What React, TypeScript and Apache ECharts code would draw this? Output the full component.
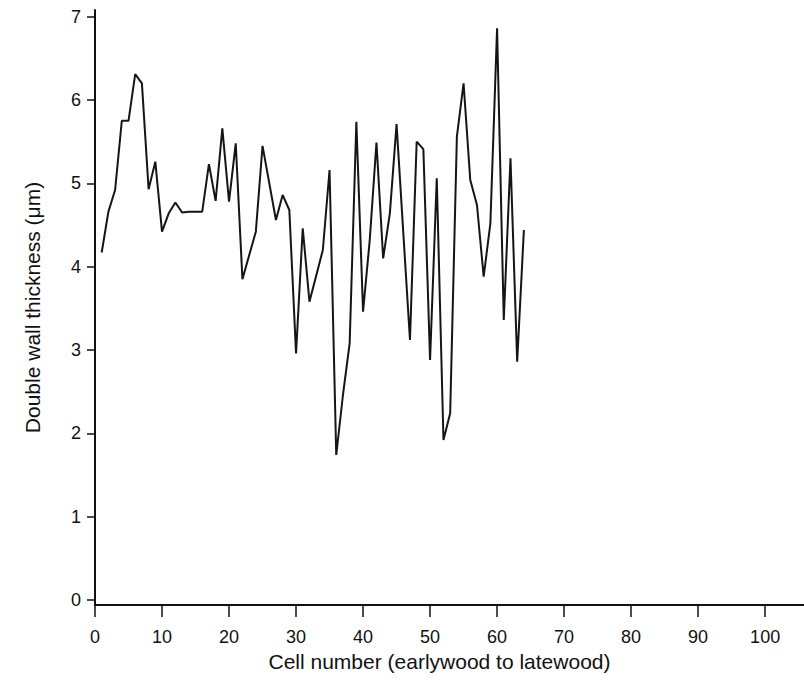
import React, { useEffect, useRef } from "react";
import * as echarts from "echarts";

const cells = [1, 2, 3, 4, 5, 6, 7, 8, 9, 10, 11, 12, 13, 14, 15, 16, 17, 18, 19, 20, 21, 22, 24, 25, 27, 28, 29, 30, 31, 32, 34, 35, 36, 37, 38, 39, 40, 41, 42, 43, 44, 45, 47, 48, 49, 50, 51, 52, 53, 54, 55, 56, 57, 58, 59, 60, 61, 62, 63, 64];
const thickness = [4.17, 4.66, 4.92, 5.75, 5.75, 6.31, 6.2, 4.93, 5.26, 4.42, 4.64, 4.77, 4.65, 4.66, 4.66, 4.66, 5.23, 4.79, 5.66, 4.78, 5.48, 3.85, 4.42, 5.45, 4.56, 4.86, 4.68, 2.96, 4.46, 3.58, 4.2, 5.16, 1.74, 2.46, 3.08, 5.74, 3.46, 4.32, 5.49, 4.1, 4.64, 5.71, 3.12, 5.5, 5.41, 2.88, 5.06, 1.92, 2.24, 5.56, 6.2, 5.04, 4.74, 3.88, 4.52, 6.86, 3.36, 5.3, 2.86, 4.44];
const xTicks = [0, 10, 20, 30, 40, 50, 60, 70, 80, 90, 100];
const yTicks = [0, 1, 2, 3, 4, 5, 6, 7];

const FONT = "'Liberation Sans', sans-serif";

export default function App() {
  const ref = useRef<HTMLDivElement>(null);
  useEffect(() => {
    if (!ref.current) return;
    const chart = echarts.init(ref.current, null, { renderer: "svg" });
    const data = cells.map((c, i) => [c, thickness[i]]);
    chart.setOption({
      animation: false,
      backgroundColor: "#ffffff",
      grid: { left: 95, right: 0, top: 10, bottom: 83 },
      xAxis: {
        type: "value",
        min: 0,
        max: 105.8,
        name: "Cell number (earlywood to latewood)",
        nameLocation: "middle",
        nameGap: 45,
        nameTextStyle: { fontFamily: FONT, fontSize: 21, color: "#111", padding: [0, 20, 0, 0] },
        splitLine: { show: false },
        axisLine: { show: true, onZero: false, lineStyle: { color: "#111", width: 2 } },
        axisTick: { show: true, length: 12, customValues: xTicks, lineStyle: { color: "#111", width: 1.5 } },
        axisLabel: { customValues: xTicks, fontFamily: FONT, fontSize: 18, color: "#111", margin: 23 },
      },
      yAxis: {
        type: "value",
        min: -0.06,
        max: 7.08,
        name: "Double wall thickness (\u03bcm)",
        nameLocation: "middle",
        nameGap: 52,
        nameTextStyle: { fontFamily: FONT, fontSize: 21, color: "#111" },
        splitLine: { show: false },
        axisLine: { show: true, onZero: false, lineStyle: { color: "#111", width: 2 } },
        axisTick: { show: true, length: 8, customValues: yTicks, lineStyle: { color: "#111", width: 1.5 } },
        axisLabel: { customValues: yTicks, fontFamily: FONT, fontSize: 18, color: "#111", margin: 14 },
      },
      series: [
        {
          type: "line",
          data,
          showSymbol: false,
          symbol: "none",
          lineStyle: { color: "#151515", width: 2 },
        },
      ],
    });
    return () => chart.dispose();
  }, []);
  return <div ref={ref} style={{ position: "absolute", left: 0, top: 0, width: 804, height: 688 }} />;
}
